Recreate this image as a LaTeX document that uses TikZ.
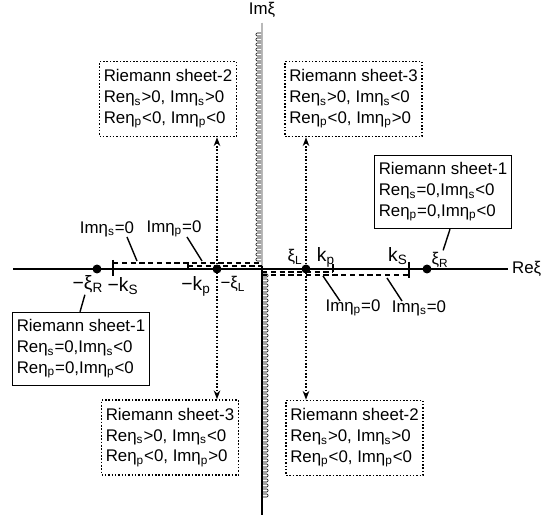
\documentclass[tikz,border=0pt]{standalone}
\usepackage{fontspec}
\setmainfont{Liberation Sans}
\usetikzlibrary{arrows.meta,positioning}

\newcommand{\lo}[1]{\textsubscript{#1}}

\begin{document}
\begin{tikzpicture}[x=0.02cm, y=-0.02cm,
    sheetbox/.style={draw, densely dotted, line width=0.9pt, align=left, inner sep=2pt,
                     minimum width=2.74cm, minimum height=1.5cm, font=\fontsize{9.6}{11.8}\selectfont},
    solidbox/.style={draw, line width=0.8pt, align=left, inner sep=2pt,
                     minimum width=2.74cm, minimum height=1.46cm, font=\fontsize{9.6}{11.8}\selectfont},
    pt/.style={circle, fill=black, inner sep=0pt, minimum size=0.18cm},
    axlab/.style={inner sep=1pt, font=\fontsize{11}{12}\selectfont},
    cutlab/.style={inner sep=1pt, font=\fontsize{9.6}{11}\selectfont},
    cut/.style={densely dashed, line width=0.6pt},
    leader/.style={line width=0.8pt},
    dotarrow/.style={densely dotted, line width=0.9pt, {Stealth[length=5pt]}-{Stealth[length=5pt]}},
]
\useasboundingbox (0,0) rectangle (552,517);

% Axes
\draw[line width=0.8pt] (13,269) -- (508,269);
\node[cutlab, anchor=west] (re) at (510,269) {Reξ};
\draw[line width=0.8pt] (262,266) -- (262,515);
\draw[double=gray!55, double distance=0.9pt, line width=0.4pt] (262,23) -- (262,266);
\node[cutlab] (im) at (262,10) {Imξ};

% Branch cut loops along the imaginary axis
\foreach \y in {33,38,...,258} {
    \draw[line width=0.3pt, rounded corners=0.6pt] (261,\y) -- ++(-5,0) -- ++(0,3) -- ++(5,0);
}
\foreach \y in {274,279,...,494} {
    \draw[line width=0.3pt, rounded corners=0.6pt] (263,\y) -- ++(5,0) -- ++(0,3) -- ++(-5,0);
}

% Points on the real axis
\node[pt] (mxiR) at (97,269) {};
\node[pt] (mxiL) at (217,269) {};
\node[pt] (xiL) at (306,269) {};
\node[pt] (xiR) at (427,269) {};

% Branch points k_s, k_p (ticks)
\draw[line width=0.8pt] (113,260) -- (113,276);
\draw[line width=0.6pt] (188,262) -- (188,270);
\draw[line width=0.6pt] (333,264) -- (333,272);
\draw[line width=0.8pt] (409,262) -- (409,278);

% Cuts Im eta = 0
\draw[cut] (113,263) -- (262,263);
\draw[cut] (188,266) -- (262,266);
\draw[cut] (262,275) -- (409,275);
\draw[cut] (262,272) -- (333,272);

% Point labels
\node[axlab] (lmxiR) at (88,284) {−ξ\lo{R}};
\node[axlab] (lmks) at (123,286) {−k\lo{S}};
\node[axlab] (lmkp) at (196,286) {−k\lo{p}};
\node[cutlab] (lmxiL) at (233,284) {−ξ\lo{L}};
\node[cutlab] (lxiL) at (295,257) {ξ\lo{L}};
\node[axlab] (lkp) at (326,257) {k\lo{p}};
\node[axlab] (lks) at (398,256) {k\lo{S}};
\node[cutlab] (lxiR) at (440,260) {ξ\lo{R}};

% Cut labels with leaders
\node[cutlab] (cs1) at (107,229) {Imη\lo{s}=0};
\node[cutlab] (cp1) at (174,229) {Imη\lo{p}=0};
\node[cutlab] (cp2) at (353,308) {Imη\lo{p}=0};
\node[cutlab] (cs2) at (419,308) {Imη\lo{s}=0};
\coordinate (ecs1) at (137,261);
\coordinate (ecp1) at (202,261);
\coordinate (ecp2) at (323,276);
\coordinate (ecs2) at (387,278);
\draw[leader] (127,237) -- (ecs1);
\draw[leader] (187,237) -- (ecp1);
\draw[leader] (340,301) -- (ecp2);
\draw[leader] (402,301) -- (ecs2);

% Riemann sheets
\node[sheetbox] (tl) at (168,99) {Riemann sheet-2\\Reη\lo{s}>0, Imη\lo{s}>0\\Reη\lo{p}<0, Imη\lo{p}<0};
\node[sheetbox] (tr) at (353.5,99) {Riemann sheet-3\\Reη\lo{s}>0, Imη\lo{s}<0\\Reη\lo{p}<0, Imη\lo{p}>0};
\node[sheetbox] (bl) at (170,437.5) {Riemann sheet-3\\Reη\lo{s}>0, Imη\lo{s}<0\\Reη\lo{p}<0, Imη\lo{p}>0};
\node[sheetbox] (br) at (354.5,438) {Riemann sheet-2\\Reη\lo{s}>0, Imη\lo{s}>0\\Reη\lo{p}<0, Imη\lo{p}<0};
\node[solidbox] (rs1) at (443,192) {Riemann sheet-1\\Reη\lo{s}=0,Imη\lo{s}<0\\Reη\lo{p}=0,Imη\lo{p}<0};
\node[solidbox] (ls1) at (81,349) {Riemann sheet-1\\Reη\lo{s}=0,Imη\lo{s}<0\\Reη\lo{p}=0,Imη\lo{p}<0};

% Connectors
\coordinate (rsfoot) at (450,0);
\coordinate (lsfoot) at (80,0);
\draw[dotarrow] (tl.south -| mxiL) -- (bl.north -| mxiL);
\draw[dotarrow] (tr.south -| xiL) -- (br.north -| xiL);
\draw[leader] (rs1.south -| rsfoot) -- (lxiR);
\draw[leader] (lmxiR) -- (ls1.north -| lsfoot);
\end{tikzpicture}
\end{document}
